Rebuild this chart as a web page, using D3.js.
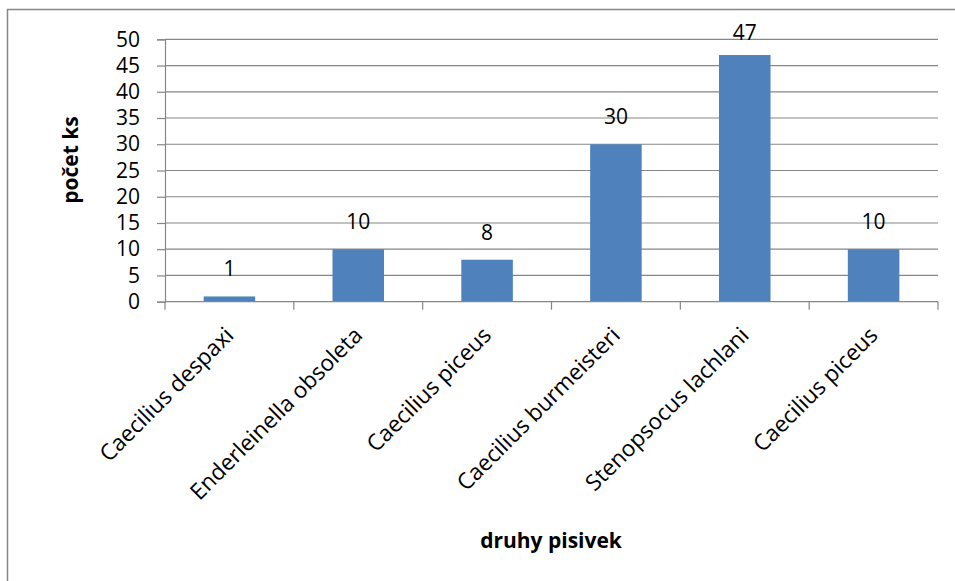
<!DOCTYPE html>
<html><head><meta charset="utf-8">
<script src="https://cdn.jsdelivr.net/npm/d3@7"></script>
<style>body{margin:0;background:#fff}svg{display:block}</style>
</head><body>
<svg id="c" width="955" height="581"></svg>
<script>
const categories = ["Caecilius despaxi","Enderleinella obsoleta","Caecilius piceus","Caecilius burmeisteri","Stenopsocus lachlani","Caecilius piceus"];
const values = [1,10,8,30,47,10];
const yTicks = [0,5,10,15,20,25,30,35,40,45,50];
const yTitle = "počet ks";
const xTitle = "druhy pisivek";

const svg = d3.select("#c");
const font = "'Open Sans', sans-serif";
const fs = 21;
const L = 165, R = 938, T = 39.3, B = 301.7;

svg.append("rect").attr("x",7.5).attr("y",9.5).attr("width",960).attr("height",600)
  .attr("fill","#fff").attr("stroke","#868686").attr("stroke-width",1.5);

const idx = categories.map((d,i)=>i);
const x = d3.scaleBand().domain(idx).range([L,R]).paddingInner(0.6).paddingOuter(0.3);
const xs = d3.scaleBand().domain(idx).range([L,R]).padding(0);
const y = d3.scaleLinear().domain([0,50]).range([B,T]);

// gridlines
svg.append("g").selectAll("line").data(yTicks.filter(t=>t>0)).join("line")
  .attr("x1",L).attr("x2",R).attr("y1",d=>y(d)).attr("y2",d=>y(d))
  .attr("stroke","#868686").attr("stroke-width",1.2);

// bars
svg.append("g").selectAll("rect").data(values).join("rect")
  .attr("x",(d,i)=>x(i)).attr("width",x.bandwidth())
  .attr("y",d=>y(d)).attr("height",d=>B-y(d)).attr("fill","#4F81BD");

// y axis
const ya = svg.append("g").attr("transform",`translate(${L},0)`)
  .call(d3.axisLeft(y).tickValues(yTicks).tickSize(8).tickPadding(17));
ya.select(".domain").attr("stroke","#868686").attr("stroke-width",1.2);
ya.selectAll(".tick line").attr("stroke","#868686").attr("stroke-width",1.2);
ya.selectAll("text").attr("font-family",font).attr("font-size",fs).attr("fill","#000");

// x axis
const xa = svg.append("g").attr("transform",`translate(0,${B})`);
xa.append("line").attr("x1",L).attr("x2",R).attr("stroke","#868686").attr("stroke-width",1.2);
const bounds = idx.map(i=>xs(i)).concat([R]);
xa.selectAll("line.t").data(bounds).join("line").attr("class","t")
  .attr("x1",d=>d).attr("x2",d=>d).attr("y1",0).attr("y2",8)
  .attr("stroke","#868686").attr("stroke-width",1.2);
xa.selectAll("text").data(categories).join("text")
  .attr("text-anchor","end").attr("font-family",font).attr("font-size",22.5).attr("fill","#000")
  .attr("transform",(d,i)=>`translate(${xs(i)+xs.bandwidth()/2},${29.5}) rotate(-45)`)
  .attr("dy","0.35em")
  .text(d=>d);

// data labels
svg.append("g").selectAll("text").data(values).join("text")
  .attr("x",(d,i)=>x(i)+x.bandwidth()/2)
  .attr("y",d=>Math.max(y(d)-20, 39.5))
  .attr("text-anchor","middle").attr("font-family",font).attr("font-size",fs).attr("fill","#000")
  .text(d=>d);

// titles
svg.append("text").attr("transform","translate(78,160) rotate(-90)")
  .attr("text-anchor","middle").attr("font-family",font).attr("font-size",21).attr("font-weight","bold")
  .text(yTitle);
svg.append("text").attr("x",551).attr("y",548)
  .attr("text-anchor","middle").attr("font-family",font).attr("font-size",21).attr("font-weight","bold")
  .text(xTitle);
</script>
</body></html>
